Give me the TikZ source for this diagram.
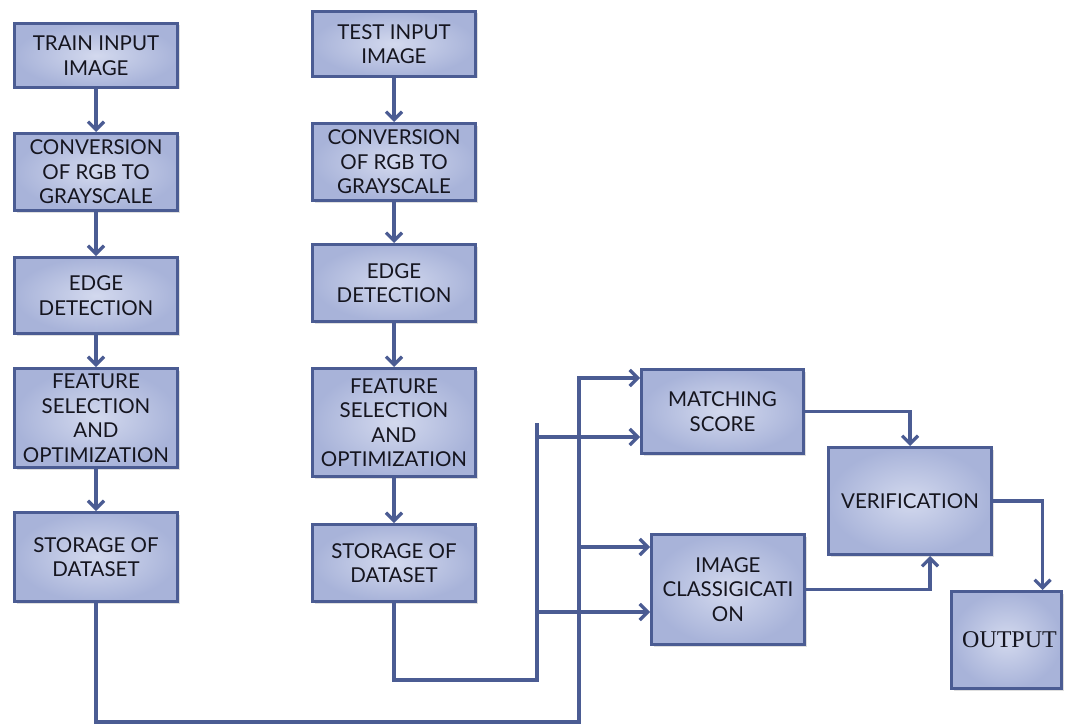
\documentclass[tikz,border=0pt]{standalone}
\usepackage{fontspec}
\setmainfont{Lato}
\newfontfamily\serifout{Liberation Serif}
\usetikzlibrary{arrows.meta,shadows}
\definecolor{edge}{HTML}{4B5C93}
\definecolor{fillin}{HTML}{D3D9EE}
\definecolor{fillout}{HTML}{A8B3D9}
\definecolor{txt}{HTML}{15151F}
\begin{document}
\begin{tikzpicture}[x=1pt,y=-1pt,
  box/.style={draw=edge, line width=3pt, inner color=fillin, outer color=fillout,
    text=txt, align=center, font=\fontsize{20.5}{24.5}\selectfont, inner sep=0pt,
    drop shadow={opacity=0.25, shadow xshift=2pt, shadow yshift=-2pt}},
  conn/.style={draw=edge, line width=3.2pt},
  arr/.style={conn, -{Straight Barb[length=8pt,width=16pt]}},
]
\useasboundingbox (0,0) rectangle (1066,725);

% left column
\node[box, minimum width=163pt, minimum height=64pt] (L1) at (96,55.5) {TRAIN INPUT\\IMAGE};
\node[box, minimum width=163pt, minimum height=77pt] (L2) at (96,172) {CONVERSION\\OF RGB TO\\GRAYSCALE};
\node[box, minimum width=163pt, minimum height=76pt] (L3) at (96,295.5) {EDGE\\DETECTION};
\node[box, minimum width=163pt, minimum height=99pt] (L4) at (96,418) {FEATURE\\SELECTION\\AND\\OPTIMIZATION};
\node[box, minimum width=163pt, minimum height=89pt] (L5) at (96,557) {STORAGE OF\\DATASET};

% right column
\node[box, minimum width=163pt, minimum height=65pt] (R1) at (394,44) {TEST INPUT\\IMAGE};
\node[box, minimum width=163pt, minimum height=77pt] (R2) at (394,162) {CONVERSION\\OF RGB TO\\GRAYSCALE};
\node[box, minimum width=163pt, minimum height=77pt] (R3) at (394,283) {EDGE\\DETECTION};
\node[box, minimum width=163pt, minimum height=108pt] (R4) at (394,422.5) {FEATURE\\SELECTION\\AND\\OPTIMIZATION};
\node[box, minimum width=163pt, minimum height=77pt] (R5) at (394,563) {STORAGE OF\\DATASET};

% right part
\node[box, minimum width=162pt, minimum height=84pt] (M) at (722.5,411.5) {MATCHING\\SCORE};
\node[box, minimum width=153pt, minimum height=110pt] (IC) at (728,589.5) {IMAGE\\CLASSIGICATI\\ON};
\node[box, minimum width=163pt, minimum height=107pt] (V) at (910,501) {VERIFICATION};
\node[box, minimum width=110pt, minimum height=97pt, font=\serifout\fontsize{24}{26}\selectfont] (O) at (1006.5,640) {\hspace{6pt}OUTPUT};

% column arrows
\draw[arr] (L1) -- (L2);
\draw[arr] (L2) -- (L3);
\draw[arr] (L3) -- (L4);
\draw[arr] (L4) -- (L5);
\draw[arr] (R1) -- (R2);
\draw[arr] (R2) -- (R3);
\draw[arr] (R3) -- (R4);
\draw[arr] (R4) -- (R5);

% bus coordinates
\coordinate (bl) at (579,722);
\coordinate (ba) at (579,378);
\coordinate (bc) at (579,547);
\coordinate (rl) at (537,680);
\coordinate (rb) at (537,423);
\coordinate (rm) at (537,437);
\coordinate (ri) at (537,612);

\draw[arr] (L5.south) |- (bl) |- (M.west |- ba);
\draw[arr] (bc) -- (IC.west |- bc);
\draw[conn] (rl) -- (rb);
\draw[arr] (R5.south) |- (rl) |- (M.west |- rm);
\draw[arr] (ri) -- (IC.west |- ri);

\draw[arr] (M.east) -| (V.north);
\draw[arr] (IC.east) -| ([xshift=20pt]V.south);
\draw[arr] (V.east) -| ([xshift=36pt]O.north);
\end{tikzpicture}
\end{document}
